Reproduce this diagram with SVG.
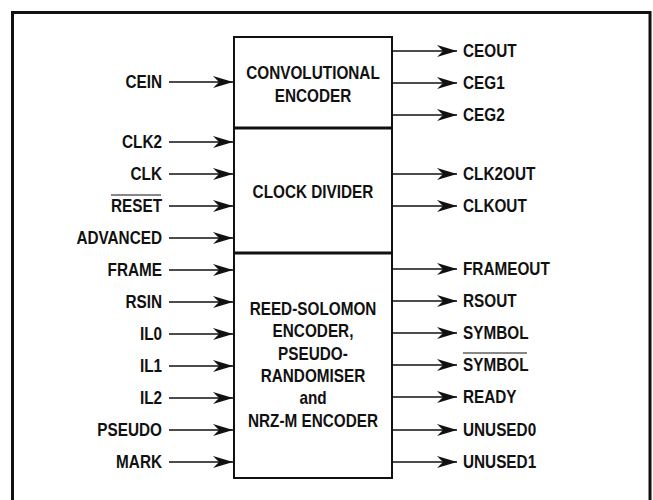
<svg xmlns="http://www.w3.org/2000/svg" width="653" height="500" viewBox="0 0 653 500">
<defs>
<style>
text{font-family:"Liberation Sans",Arial,sans-serif;font-weight:bold;font-size:17.5px;fill:#111}
.in text{text-anchor:end}
.c{text-anchor:middle}
.w{stroke:#111;stroke-width:1.5;fill:none}
.box{fill:#fff;stroke:#111;stroke-width:2}
.ov{stroke:#111;stroke-width:1.2}
</style>
<marker id="ah" viewBox="-20 -7 21 14" refX="0" refY="0" markerWidth="21" markerHeight="14" markerUnits="userSpaceOnUse" orient="auto">
<path d="M0,0 L-20,-6 L-14,0 L-20,6 Z" fill="#111"/>
</marker>
</defs>
<rect x="0" y="0" width="653" height="500" fill="#fff"/>
<rect id="frame" x="12.5" y="12.5" width="637.5" height="500" fill="none" stroke="#111" stroke-width="3"/>
<g id="conv">
<rect class="box" x="234" y="37" width="158" height="91"/>
<g transform="translate(313,0) scale(0.875,1)">
<text class="c" x="0" y="79">CONVOLUTIONAL</text>
<text class="c" x="0" y="102">ENCODER</text>
</g>
</g>
<g id="clkdiv">
<rect class="box" x="234" y="128" width="158" height="125"/>
<g transform="translate(313,0) scale(0.875,1)">
<text class="c" x="0" y="198">CLOCK DIVIDER</text>
</g>
</g>
<g id="rs">
<rect class="box" x="234" y="253" width="158" height="225"/>
<g transform="translate(313,0) scale(0.875,1)">
<text class="c" x="0" y="315">REED-SOLOMON</text>
<text class="c" x="0" y="337">ENCODER,</text>
<text class="c" x="0" y="360">PSEUDO-</text>
<text class="c" x="0" y="382">RANDOMISER</text>
<text class="c" x="0" y="404">and</text>
<text class="c" x="0" y="427">NRZ-M ENCODER</text>
</g>
</g>
<line x1="234" y1="128" x2="392" y2="128" stroke="#111" stroke-width="3"/>
<line x1="234" y1="253" x2="392" y2="253" stroke="#111" stroke-width="3"/>
<g id="connectors" class="w" marker-end="url(#ah)">
<line x1="169" y1="82" x2="233" y2="82"/>
<line x1="169" y1="142" x2="233" y2="142"/>
<line x1="169" y1="174" x2="233" y2="174"/>
<line x1="169" y1="206" x2="233" y2="206"/>
<line x1="169" y1="238" x2="233" y2="238"/>
<line x1="169" y1="270" x2="233" y2="270"/>
<line x1="169" y1="302" x2="233" y2="302"/>
<line x1="169" y1="334" x2="233" y2="334"/>
<line x1="169" y1="366" x2="233" y2="366"/>
<line x1="169" y1="398" x2="233" y2="398"/>
<line x1="169" y1="430" x2="233" y2="430"/>
<line x1="169" y1="462" x2="233" y2="462"/>
<line x1="392" y1="51" x2="457" y2="51"/>
<line x1="392" y1="83" x2="457" y2="83"/>
<line x1="392" y1="115" x2="457" y2="115"/>
<line x1="392" y1="174" x2="457" y2="174"/>
<line x1="392" y1="206" x2="457" y2="206"/>
<line x1="392" y1="269" x2="457" y2="269"/>
<line x1="392" y1="301" x2="457" y2="301"/>
<line x1="392" y1="333" x2="457" y2="333"/>
<line x1="392" y1="365" x2="457" y2="365"/>
<line x1="392" y1="397" x2="457" y2="397"/>
<line x1="392" y1="430" x2="457" y2="430"/>
<line x1="392" y1="462" x2="457" y2="462"/>
</g>
<g id="inputs" class="in">
<g transform="translate(162,0) scale(0.875,1)">
<text x="0" y="88">CEIN</text>
<text x="0" y="148">CLK2</text>
<text x="0" y="180">CLK</text>
<text x="0" y="212">RESET</text>
<text x="0" y="244">ADVANCED</text>
<text x="0" y="276">FRAME</text>
<text x="0" y="308">RSIN</text>
<text x="0" y="340">IL0</text>
<text x="0" y="372">IL1</text>
<text x="0" y="404">IL2</text>
<text x="0" y="436">PSEUDO</text>
<text x="0" y="468">MARK</text>
</g>
<line class="ov" x1="111" y1="195" x2="161" y2="195"/>
</g>
<g id="outputs">
<g transform="translate(463,0) scale(0.875,1)">
<text x="0" y="57">CEOUT</text>
<text x="0" y="89">CEG1</text>
<text x="0" y="121">CEG2</text>
<text x="0" y="180">CLK2OUT</text>
<text x="0" y="212">CLKOUT</text>
<text x="0" y="275">FRAMEOUT</text>
<text x="0" y="307">RSOUT</text>
<text x="0" y="339">SYMBOL</text>
<text x="0" y="371">SYMBOL</text>
<text x="0" y="403">READY</text>
<text x="0" y="436">UNUSED0</text>
<text x="0" y="468">UNUSED1</text>
</g>
<line class="ov" x1="463" y1="353" x2="527" y2="353"/>
</g>
</svg>
